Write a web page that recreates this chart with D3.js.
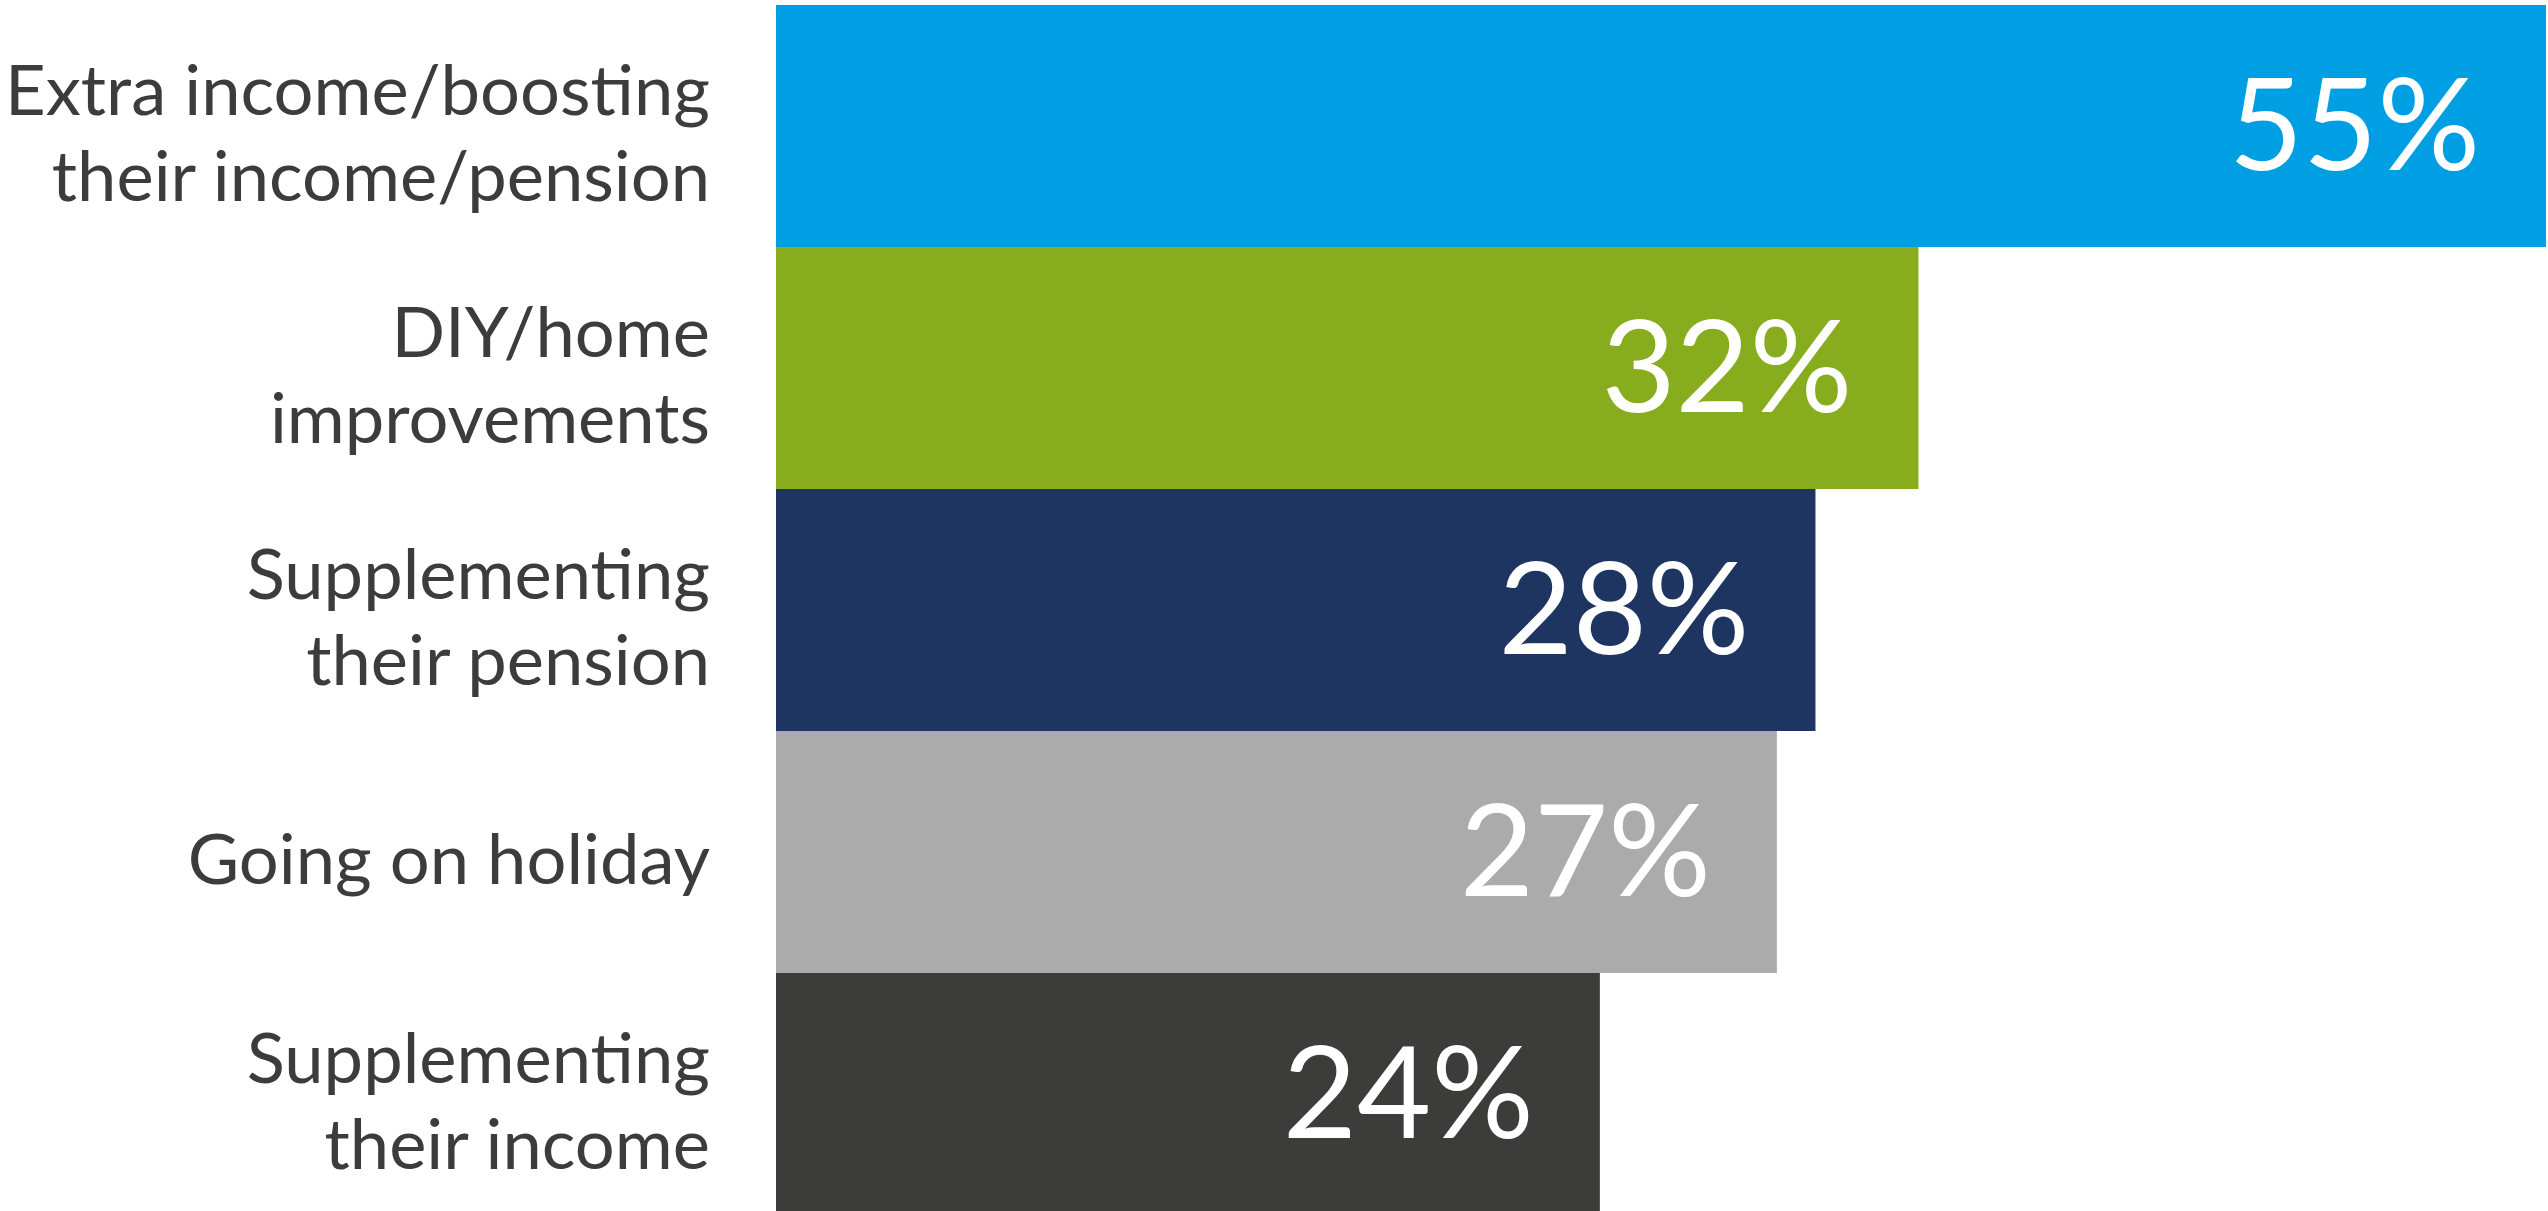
<!DOCTYPE html>
<html>
<head>
<meta charset="utf-8">
<script src="https://cdn.jsdelivr.net/npm/d3@7"></script>
<style>
  html, body { margin: 0; padding: 0; background: #fff; }
  svg { display: block; }
</style>
</head>
<body>
<div id="chart"></div>
<script>
// categories, top to bottom (each entry is the lines of the wrapped label)
var categories = [
    ["Extra income/boosting", "their income/pension"],
    ["DIY/home", "improvements"],
    ["Supplementing", "their pension"],
    ["Going on holiday"],
    ["Supplementing", "their income"]
];
// printed percentages
var shares = [55, 32, 28, 27, 24];
// bar lengths as drawn in the picture (same % units, the source bars are not strictly proportional)
var barLengths = [55, 35.5, 32.3, 31.1, 25.6];
var barColors = ["#009fe3", "#87ac1e", "#1e3461", "#ababab", "#3c3c3b"];

var WIDTH = 2548,
    HEIGHT = 1211;

var BAR_LEFT = 776;
var LABEL_RIGHT = 710;
var LINE_GAP = 86;

var svg = d3.select("#chart").append("svg")
    .attr("width", WIDTH)
    .attr("height", HEIGHT);

var x = d3.scaleLinear()
    .domain([0, 55])
    .range([BAR_LEFT, 2546]);

var y = d3.scaleBand()
    .domain(d3.range(categories.length))
    .range([5, 1215])
    .padding(0);

// bars
svg.selectAll("rect.bar")
    .data(barLengths)
    .enter()
    .append("rect")
    .attr("class", "bar")
    .attr("x", x(0))
    .attr("y", function(d, i){ return y(i); })
    .attr("width", function(d){ return x(d) - x(0); })
    .attr("height", y.bandwidth())
    .attr("fill", function(d, i){ return barColors[i]; });

// value labels inside bars
svg.selectAll("text.value")
    .data(shares)
    .enter()
    .append("text")
    .attr("class", "value")
    .attr("x", function(d, i){ return x(barLengths[i]) - 66; })
    .attr("y", function(d, i){ return y(i) + y.bandwidth() / 2 + 44; })
    .attr("text-anchor", "end")
    .style("font-family", "Lato, 'Open Sans', sans-serif")
    .style("font-weight", 400)
    .style("font-size", "128px")
    .style("fill", "#fff")
    .text(function(d){ return d + "%"; });

// category labels, right aligned against the bars
var labels = svg.selectAll("text.cat")
    .data(categories)
    .enter()
    .append("text")
    .attr("class", "cat")
    .attr("text-anchor", "end")
    .style("font-family", "Lato, 'Open Sans', sans-serif")
    .style("font-weight", 400)
    .style("font-size", "70.5px")
    .style("fill", "#3c3c3b");

labels.each(function(lines, i){
    var c = y(i) + y.bandwidth() / 2 + 8;
    var first = c - (lines.length - 1) * LINE_GAP / 2 + 24;
    d3.select(this).selectAll("tspan")
        .data(lines)
        .enter()
        .append("tspan")
        .attr("x", LABEL_RIGHT)
        .attr("y", function(d, j){ return first + j * LINE_GAP; })
        .text(function(d){ return d; });
});
</script>
</body>
</html>
